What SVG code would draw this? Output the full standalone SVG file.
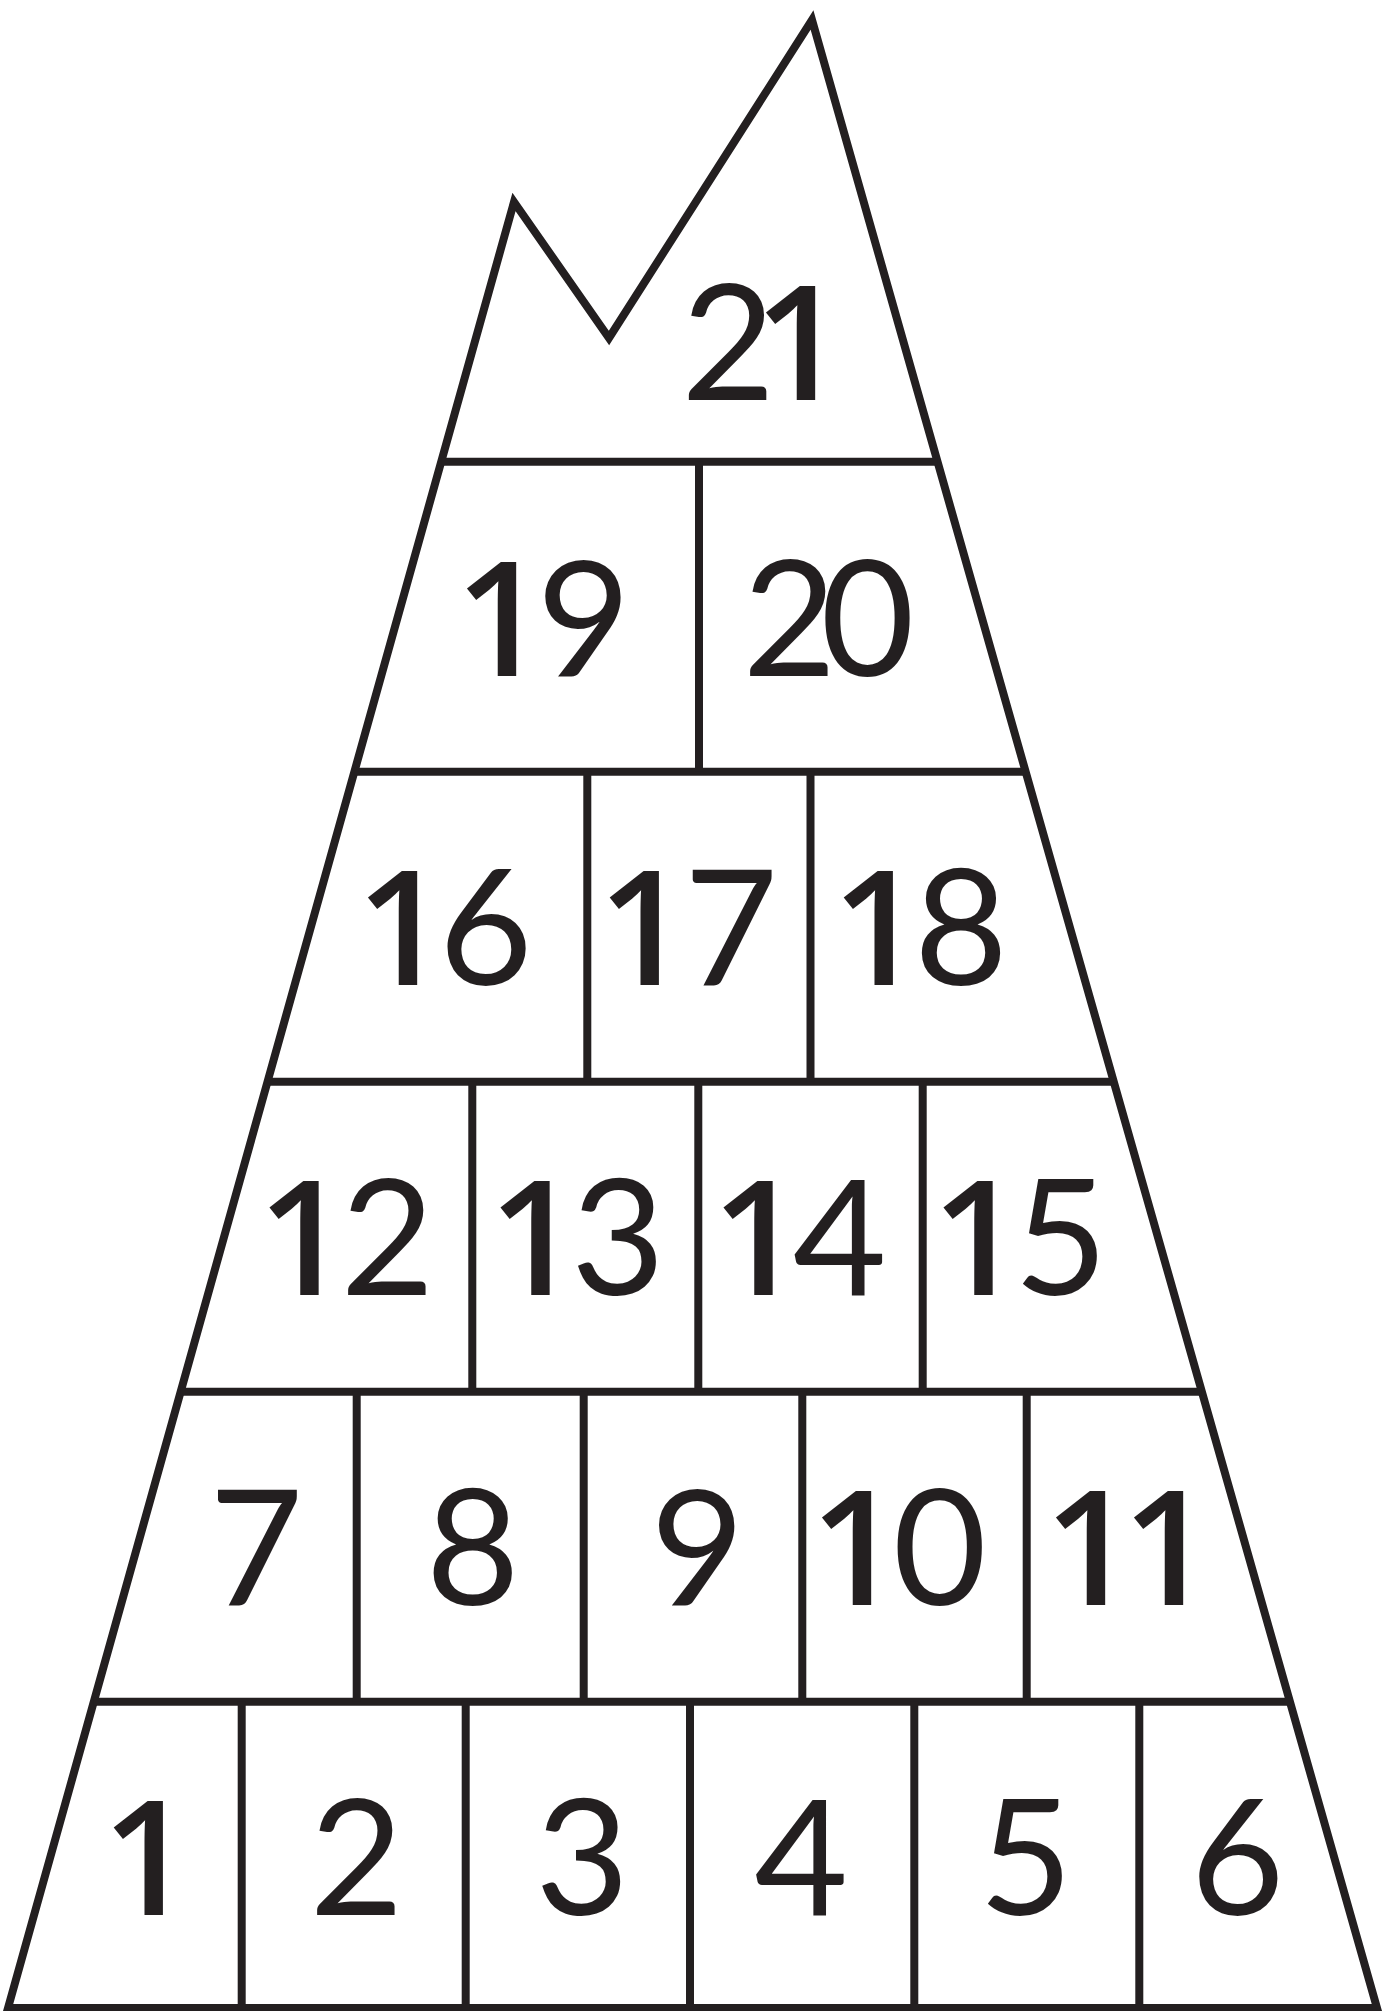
<svg xmlns="http://www.w3.org/2000/svg" width="1392" height="2011" viewBox="0 0 1392 2011">
<style>
.ln{fill:none;stroke:#231f20;stroke-width:8;stroke-linejoin:miter;stroke-miterlimit:10}
.n{font-family:Lato,"Liberation Sans",sans-serif;font-size:162px;fill:#231f20;text-anchor:middle}
.o{font-family:"Open Sans","Noto Sans",sans-serif;font-weight:600;font-size:160px}
</style>
<rect width="1392" height="2011" fill="#ffffff"/>
<g id="grid">
<polygon class="ln" points="8,2008 514,202 609,338 812,20 1377,2008"/>
<line class="ln" x1="441.2" y1="461.7" x2="937.5" y2="461.7"/>
<line class="ln" x1="354.4" y1="771.7" x2="1025.6" y2="771.7"/>
<line class="ln" x1="267.5" y1="1081.7" x2="1113.7" y2="1081.7"/>
<line class="ln" x1="180.6" y1="1391.7" x2="1201.9" y2="1391.7"/>
<line class="ln" x1="93.8" y1="1701.7" x2="1290" y2="1701.7"/>
<line class="ln" x1="699" y1="461.7" x2="699" y2="771.7"/>
<line class="ln" x1="587.3" y1="771.7" x2="587.3" y2="1081.7"/>
<line class="ln" x1="810.5" y1="771.7" x2="810.5" y2="1081.7"/>
<line class="ln" x1="472.3" y1="1081.7" x2="472.3" y2="1391.7"/>
<line class="ln" x1="698.3" y1="1081.7" x2="698.3" y2="1391.7"/>
<line class="ln" x1="922.7" y1="1081.7" x2="922.7" y2="1391.7"/>
<line class="ln" x1="356.7" y1="1391.7" x2="356.7" y2="1701.7"/>
<line class="ln" x1="583.7" y1="1391.7" x2="583.7" y2="1701.7"/>
<line class="ln" x1="802.3" y1="1391.7" x2="802.3" y2="1701.7"/>
<line class="ln" x1="1026.7" y1="1391.7" x2="1026.7" y2="1701.7"/>
<line class="ln" x1="241.7" y1="1701.7" x2="241.7" y2="2008"/>
<line class="ln" x1="465.7" y1="1701.7" x2="465.7" y2="2008"/>
<line class="ln" x1="690" y1="1701.7" x2="690" y2="2008"/>
<line class="ln" x1="914.3" y1="1701.7" x2="914.3" y2="2008"/>
<line class="ln" x1="1139.3" y1="1701.7" x2="1139.3" y2="2008"/>
</g>
<g id="cell-21"><text class="n" y="400"><tspan x="728.3">2</tspan><tspan class="o" x="799.7">1</tspan></text></g>
<g id="cell-19"><text class="n" y="676"><tspan class="o" x="500.7">1</tspan><tspan x="583.8">9</tspan></text></g>
<g id="cell-20"><text class="n" x="789.5 867.5" y="676">20</text></g>
<g id="cell-16"><text class="n" y="985"><tspan class="o" x="401.7">1</tspan><tspan x="485.8">6</tspan></text></g>
<g id="cell-17"><text class="n" y="985"><tspan class="o" x="643.5">1</tspan><tspan x="731">7</tspan></text></g>
<g id="cell-18"><text class="n" y="985"><tspan class="o" x="877.4">1</tspan><tspan x="961">8</tspan></text></g>
<g id="cell-12"><text class="n" y="1295"><tspan class="o" x="303.3">1</tspan><tspan x="387.5">2</tspan></text></g>
<g id="cell-13"><text class="n" y="1295"><tspan class="o" x="534.3">1</tspan><tspan x="618">3</tspan></text></g>
<g id="cell-14"><text class="n" y="1295"><tspan class="o" x="757.3">1</tspan><tspan x="839.8">4</tspan></text></g>
<g id="cell-15"><text class="n" y="1295"><tspan class="o" x="977.3">1</tspan><tspan x="1060.8">5</tspan></text></g>
<g id="cell-7"><text class="n" x="256.2" y="1605">7</text></g>
<g id="cell-8"><text class="n" x="472.8" y="1605">8</text></g>
<g id="cell-9"><text class="n" x="697.5" y="1605">9</text></g>
<g id="cell-10"><text class="n" y="1605"><tspan class="o" x="855.7">1</tspan><tspan x="939.7">0</tspan></text></g>
<g id="cell-11"><text class="n" y="1605"><tspan class="o" x="1089.7">1</tspan><tspan class="o" x="1167.7">1</tspan></text></g>
<g id="cell-1"><text class="n" y="1915"><tspan class="o" x="147.5">1</tspan></text></g>
<g id="cell-2"><text class="n" x="356.5" y="1915">2</text></g>
<g id="cell-3"><text class="n" x="582.2" y="1915">3</text></g>
<g id="cell-4"><text class="n" x="801.2" y="1915">4</text></g>
<g id="cell-5"><text class="n" x="1025.8" y="1915">5</text></g>
<g id="cell-6"><text class="n" x="1237.5" y="1915">6</text></g>
</svg>
